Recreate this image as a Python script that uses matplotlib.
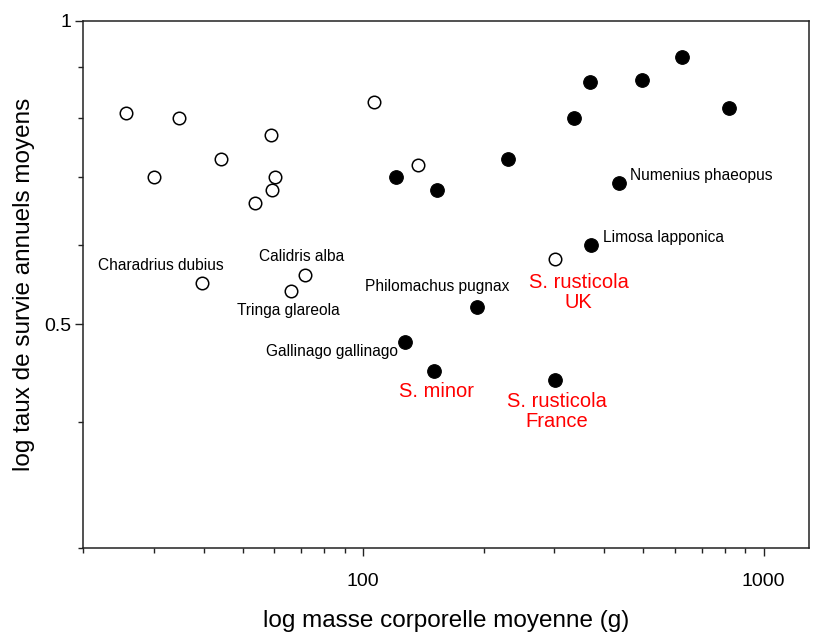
import matplotlib
matplotlib.use("Agg")
import matplotlib.pyplot as plt
from matplotlib.ticker import FixedLocator, NullFormatter, FixedFormatter

plt.rcParams['font.family'] = ['Liberation Sans', 'DejaVu Sans']

# Open circles
open_mass = [25.6, 34.6, 30.1, 44.1, 58.8, 60.3, 59.3, 53.6, 106.7, 39.6, 71.6, 66.2, 137.0, 300.6]
open_surv = [0.81, 0.80, 0.70, 0.73, 0.77, 0.70, 0.68, 0.66, 0.83, 0.55, 0.56, 0.54, 0.72, 0.58]

# Filled circles
fill_mass = [120.6, 626.0, 368.0, 495.5, 817.6, 337.0, 230.0, 153.1, 434.5, 371.5, 192.8, 127.1, 150.5, 300.6]
fill_surv = [0.70, 0.92, 0.87, 0.874, 0.82, 0.80, 0.73, 0.68, 0.69, 0.60, 0.52, 0.48, 0.45, 0.44]

# Labels: (text, series, index, dx px, dy px (down +), ha, color, size)
labels = [
    ("Charadrius dubius", "open", 9, -41, 17, "center", "black", 11.2),
    ("Calidris alba", "open", 10, -3, 18, "center", "black", 11.2),
    ("Tringa glareola", "open", 11, -3, -20, "center", "black", 11.2),
    ("S. rusticola\nUK", "open", 13, 24, -33, "center", "red", 14.5),
    ("Philomachus pugnax", "fill", 10, -40, 21, "center", "black", 11.2),
    ("Gallinago gallinago", "fill", 11, -7, -9, "right", "black", 11.2),
    ("Numenius phaeopus", "fill", 8, 11, 8, "left", "black", 11.2),
    ("Limosa lapponica", "fill", 9, 12, 7, "left", "black", 11.2),
    ("S. minor", "fill", 12, 2, -21, "center", "red", 14.5),
    ("S. rusticola\nFrance", "fill", 13, 2, -31, "center", "red", 14.5),
]

x_major = [100, 1000]
x_major_labels = ["100", "1000"]
x_minor = [20, 30, 40, 50, 60, 70, 80, 90, 200, 300, 400, 500, 600, 700, 800, 900]
y_major = [0.5, 1.0]
y_major_labels = ["0.5", "1"]
y_minor = [0.3, 0.4, 0.6, 0.7, 0.8, 0.9]

fig = plt.figure(figsize=(8.15, 6.35), dpi=100)
ax = fig.add_axes([0.1022, 0.1365, 0.993 - 0.1022, 0.9674 - 0.1365])
ax.set_xscale('log')
ax.set_yscale('log')
ax.set_xlim(20, 1300)
ax.set_ylim(0.3, 1.0)

ax.plot(open_mass, open_surv, 'o', ms=9, mfc='white', mec='black', mew=1.1, ls='none', zorder=3)
ax.plot(fill_mass, fill_surv, 'o', ms=9.8, mfc='black', mec='black', mew=0.8, ls='none', zorder=3)

for text, series, i, dx, dy, ha, col, fs in labels:
    xs, ys = (open_mass, open_surv) if series == "open" else (fill_mass, fill_surv)
    ax.annotate(text, (xs[i], ys[i]), xytext=(dx, dy), textcoords='offset pixels',
                ha=ha, va='center', color=col, fontsize=fs, linespacing=1.1)

ax.xaxis.set_major_locator(FixedLocator(x_major))
ax.xaxis.set_major_formatter(FixedFormatter(x_major_labels))
ax.xaxis.set_minor_locator(FixedLocator(x_minor))
ax.xaxis.set_minor_formatter(NullFormatter())
ax.yaxis.set_major_locator(FixedLocator(y_major))
ax.yaxis.set_major_formatter(FixedFormatter(y_major_labels))
ax.yaxis.set_minor_locator(FixedLocator(y_minor))
ax.yaxis.set_minor_formatter(NullFormatter())

spine_col = '#222222'
for s in ax.spines.values():
    s.set_linewidth(1.1)
    s.set_color(spine_col)
ax.tick_params(which='major', length=5.5, width=1.0, color=spine_col, labelsize=14, direction='out')
ax.tick_params(which='minor', length=3.3, width=1.0, color=spine_col, direction='out')
ax.tick_params(axis='x', which='major', pad=12)
ax.tick_params(axis='y', which='major', pad=3)

ax.set_xlabel("log masse corporelle moyenne (g)", fontsize=17.5, labelpad=15)
ax.set_ylabel("log taux de survie annuels moyens", fontsize=17.5, labelpad=7)

fig.savefig("out.png", dpi=100)
